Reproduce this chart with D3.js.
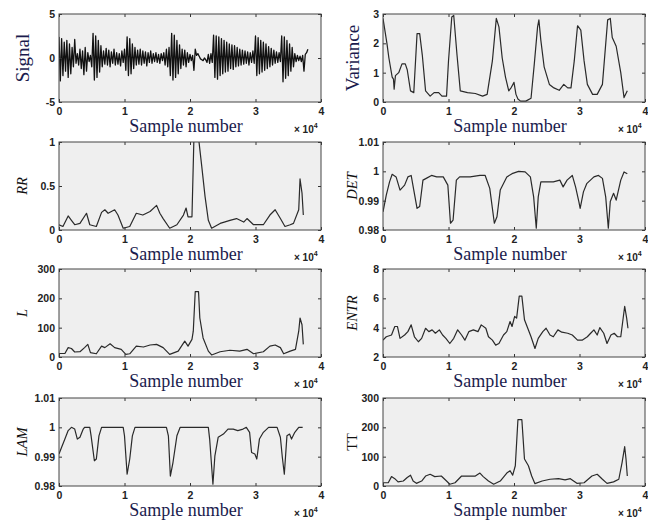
<!DOCTYPE html>
<html lang="en">
<head>
<meta charset="UTF-8">
<script src="https://cdn.jsdelivr.net/npm/d3@7"></script>
<title>Recurrence measures</title>
<style>
    body { margin: 0; background: #fff; }
    .tick text { font-family: "Liberation Sans", Arial, sans-serif; font-weight: bold; font-size: 10.5px; fill: #222; }
    .tick line { stroke: #333; }
    text.serif { font-family: "Liberation Serif", "Times New Roman", serif; }
</style>
</head>
<body>
<div id="chart"></div>
<script>
// x positions are in units of 1e4 samples
var xTicks = [0, 1, 2, 3, 4];

// raw signal, one value every 200 samples
var signalStep = 200;
var signalValues = [
    2.4,-2.6,2.2,-2.0,1.8,-1.5,2.0,-2.2,1.6,-1.8,1.2,-1.0,2.1,-0.6,0.5,
    -0.8,1.0,-1.2,0.8,-1.9,1.2,-1.5,0.6,-0.4,0.3,
    -1.0,2.8,-2.5,2.5,-2.2,2.0,-1.6,1.4,-1.0,0.8,
    -0.7,1.1,-0.8,0.9,-1.0,0.7,-0.6,1.0,-0.8,0.6,-0.7,0.5,-0.9,0.8,-0.5,
    1.0,-1.4,2.4,-2.0,2.2,-1.8,1.6,-1.2,1.2,-0.8,
    0.9,-0.7,1.0,-0.8,0.8,-0.6,0.7,-0.9,0.6,-0.5,0.8,-0.6,0.5,-0.4,0.6,-0.5,0.4,-0.6,0.5,-0.3,0.6,-0.8,1.0,-1.0,1.2,
    -2.0,2.8,-2.5,2.6,-2.2,2.0,-1.8,1.5,
    -1.2,1.0,-0.8,0.9,-1.0,0.6,-0.5,0.4,-0.3,0.3,
    -1.4,1.0,0.3,0.5,0.2,-0.1,-0.2,-0.3,0.0,-0.2,-0.5,0.4,-0.6,0.5,-0.5,
    2.6,-2.2,2.5,-2.4,2.4,-2.0,2.2,-1.8,2.0,-1.6,1.8,-1.5,1.6,-1.2,1.5,-1.3,1.4,-1.0,1.2,-0.9,1.0,-0.8,
    0.9,-0.7,0.8,-0.6,0.7,-0.8,0.6,-0.5,0.8,-0.6,
    2.5,-2.0,2.3,-1.8,2.0,-1.6,1.8,-1.4,1.6,-1.2,1.3,-1.0,1.1,-0.8,0.9,
    -0.6,0.7,-0.5,0.6,-0.4,
    2.5,-2.7,2.4,-2.3,2.0,-2.0,1.6,-1.5,1.2,-1.0,
    0.5,-0.4,0.3,-0.3,0.2,-0.4,0.3,-1.5,0.4,0.6,1.0
];

var variance = [[0,2.85],[0.06,2.0],[0.09,1.5],[0.14,0.85],[0.16,0.78],[0.17,0.44],[0.19,0.9],[0.24,1.0],[0.29,1.3],[0.34,1.3],[0.37,1.1],[0.42,0.38],[0.47,0.32],[0.52,2.33],[0.56,2.33],[0.6,1.6],[0.65,0.38],[0.72,0.2],[0.78,0.32],[0.85,0.32],[0.9,0.2],[0.97,0.2],[1.0,1.4],[1.05,2.9],[1.08,2.95],[1.13,1.6],[1.18,0.38],[1.29,0.32],[1.41,0.29],[1.52,0.2],[1.59,0.26],[1.67,1.4],[1.73,2.85],[1.77,2.56],[1.82,1.5],[1.87,0.85],[1.92,0.38],[1.96,0.5],[2.0,0.67],[2.03,0.26],[2.06,0.1],[2.1,0.03],[2.18,0.03],[2.26,0.13],[2.31,1.3],[2.36,2.56],[2.38,2.8],[2.41,2.1],[2.46,1.2],[2.54,0.6],[2.61,0.48],[2.69,0.4],[2.76,0.6],[2.82,0.48],[2.87,0.48],[2.92,1.4],[2.97,2.6],[3.02,2.45],[3.07,1.4],[3.12,0.6],[3.2,0.26],[3.27,0.26],[3.35,0.6],[3.43,2.8],[3.47,2.85],[3.5,2.2],[3.56,1.9],[3.63,1.0],[3.68,0.15],[3.73,0.38]];

var rr = [[0,0.06],[0.06,0.04],[0.14,0.16],[0.19,0.11],[0.24,0.06],[0.32,0.075],[0.42,0.19],[0.47,0.06],[0.57,0.04],[0.65,0.2],[0.7,0.23],[0.75,0.19],[0.85,0.23],[0.9,0.17],[0.98,0.02],[1.08,0.04],[1.18,0.19],[1.28,0.17],[1.39,0.21],[1.49,0.28],[1.54,0.19],[1.59,0.13],[1.69,0.02],[1.8,0.06],[1.9,0.17],[1.94,0.25],[1.97,0.15],[2.03,0.15],[2.06,1.05],[2.13,1.05],[2.18,0.72],[2.23,0.38],[2.28,0.11],[2.33,0.02],[2.46,0.075],[2.61,0.11],[2.71,0.13],[2.82,0.09],[2.87,0.13],[2.97,0.06],[3.12,0.06],[3.22,0.17],[3.3,0.23],[3.38,0.13],[3.45,0.04],[3.53,0.06],[3.58,0.075],[3.66,0.23],[3.68,0.58],[3.71,0.42],[3.73,0.17]];

var det = [[0,0.9862],[0.05,0.9919],[0.1,0.9964],[0.14,0.999],[0.2,0.9981],[0.26,0.9936],[0.33,0.9953],[0.38,0.9981],[0.43,0.9986],[0.47,0.9936],[0.52,0.9874],[0.56,0.988],[0.61,0.997],[0.66,0.9976],[0.74,0.9986],[0.82,0.9981],[0.92,0.9981],[0.99,0.9953],[1.03,0.9823],[1.07,0.9834],[1.12,0.997],[1.17,0.9981],[1.33,0.9981],[1.48,0.9986],[1.56,0.9986],[1.63,0.9942],[1.7,0.9823],[1.74,0.9845],[1.79,0.9936],[1.89,0.9981],[1.97,0.9992],[2.07,1.0],[2.17,0.9998],[2.25,0.9981],[2.3,0.9913],[2.34,0.9806],[2.37,0.9913],[2.41,0.9964],[2.5,0.9964],[2.6,0.9964],[2.7,0.997],[2.75,0.9947],[2.81,0.997],[2.89,0.9986],[2.94,0.9947],[2.99,0.9897],[3.01,0.9874],[3.06,0.993],[3.11,0.9958],[3.22,0.9981],[3.29,0.9986],[3.35,0.9976],[3.4,0.9913],[3.44,0.9806],[3.47,0.9897],[3.52,0.9925],[3.56,0.9902],[3.63,0.997],[3.68,0.9998],[3.73,0.9992]];

var lmean = [[0,12],[0.09,12],[0.14,32],[0.19,29],[0.24,17],[0.32,18],[0.39,32],[0.44,43],[0.48,15],[0.57,11],[0.65,37],[0.7,32],[0.78,45],[0.85,32],[0.95,26],[1.02,9],[1.08,11],[1.18,37],[1.29,34],[1.39,41],[1.49,43],[1.59,32],[1.69,9],[1.82,20],[1.92,54],[1.97,37],[2.03,60],[2.05,88],[2.08,223],[2.13,223],[2.15,133],[2.2,65],[2.28,20],[2.33,7],[2.46,18],[2.61,23],[2.76,20],[2.87,26],[2.97,11],[3.12,18],[3.22,37],[3.3,41],[3.38,32],[3.43,11],[3.53,20],[3.61,26],[3.66,88],[3.68,133],[3.71,110],[3.73,43]];

var entr = [[0,3.15],[0.05,3.38],[0.13,3.5],[0.18,4.08],[0.22,4.08],[0.26,3.27],[0.33,3.5],[0.38,3.73],[0.43,4.19],[0.48,3.38],[0.54,3.04],[0.59,3.27],[0.65,3.96],[0.7,3.73],[0.75,3.85],[0.8,3.62],[0.86,3.85],[0.91,3.5],[0.96,3.27],[1.02,2.92],[1.08,3.27],[1.14,3.85],[1.2,3.5],[1.25,3.15],[1.31,3.73],[1.38,3.85],[1.45,3.73],[1.5,4.19],[1.57,3.96],[1.61,3.38],[1.67,3.15],[1.72,2.81],[1.77,2.92],[1.84,3.5],[1.89,3.73],[1.94,4.42],[1.97,4.08],[2.01,4.77],[2.04,4.65],[2.08,6.15],[2.12,6.15],[2.16,4.54],[2.21,3.96],[2.26,3.38],[2.32,2.58],[2.37,3.27],[2.44,3.73],[2.49,3.96],[2.55,3.5],[2.6,3.38],[2.67,3.85],[2.73,3.69],[2.82,3.62],[2.89,3.5],[2.97,3.15],[3.04,3.15],[3.12,3.38],[3.17,3.62],[3.22,3.85],[3.27,3.5],[3.31,4.0],[3.37,3.62],[3.42,2.92],[3.48,3.5],[3.53,3.62],[3.58,3.38],[3.63,3.38],[3.66,4.42],[3.69,5.46],[3.72,4.65],[3.74,3.96]];

var lam = [[0,0.9909],[0.04,0.9932],[0.09,0.996],[0.14,0.9989],[0.19,1.0],[0.24,0.9994],[0.28,0.996],[0.32,0.9966],[0.37,0.9994],[0.39,1.0],[0.47,1.0],[0.49,0.9971],[0.54,0.9886],[0.57,0.9892],[0.61,0.9971],[0.65,1.0],[0.98,1.0],[1.0,0.9971],[1.04,0.984],[1.08,0.9892],[1.12,0.9971],[1.16,1.0],[1.64,1.0],[1.67,0.9971],[1.7,0.9834],[1.74,0.988],[1.8,0.9971],[1.85,1.0],[2.28,1.0],[2.3,0.996],[2.35,0.9806],[2.38,0.9903],[2.43,0.9966],[2.51,0.9977],[2.58,0.9994],[2.66,0.9994],[2.73,0.9989],[2.81,0.9994],[2.86,1.0],[2.91,0.9983],[2.94,0.9914],[2.99,0.9909],[3.02,0.9892],[3.06,0.996],[3.12,0.9983],[3.2,1.0],[3.33,1.0],[3.38,0.9966],[3.41,0.9897],[3.44,0.984],[3.48,0.9971],[3.52,0.9977],[3.55,0.996],[3.6,0.9983],[3.66,1.0],[3.72,1.0]];

var tt = [[0,11],[0.08,11],[0.13,32],[0.18,25],[0.23,14],[0.31,17],[0.37,29],[0.42,37],[0.46,17],[0.51,9],[0.59,17],[0.65,34],[0.72,40],[0.79,32],[0.89,34],[0.97,17],[1.02,6],[1.1,11],[1.2,34],[1.3,34],[1.41,34],[1.48,44],[1.53,32],[1.61,17],[1.69,6],[1.79,17],[1.89,44],[1.94,52],[1.98,37],[2.02,69],[2.06,226],[2.12,226],[2.16,92],[2.22,69],[2.27,34],[2.32,8],[2.43,17],[2.55,23],[2.68,25],[2.78,21],[2.86,25],[2.96,9],[3.07,11],[3.19,34],[3.27,40],[3.35,23],[3.42,9],[3.52,14],[3.6,23],[3.65,80],[3.69,134],[3.71,92],[3.73,34]];

var signal = signalValues.map(function (v, i) { return [i * signalStep / 1e4, v]; });

var panels = [
    {id: "sig",  label: "Signal",   italic: false, big: true,  data: signal,   domain: [-5, 5],       ticks: [-5, 0, 5],               col: 0, row: 0},
    {id: "var",  label: "Variance", italic: false, big: true,  data: variance, domain: [0, 3],        ticks: [0, 1, 2, 3],             col: 1, row: 0},
    {id: "rr",   label: "RR",       italic: true,  big: false, data: rr,       domain: [0, 1],        ticks: [0, 0.5, 1],              col: 0, row: 1},
    {id: "det",  label: "DET",      italic: true,  big: false, data: det,      domain: [0.98, 1.01],  ticks: [0.98, 0.99, 1, 1.01],    col: 1, row: 1},
    {id: "l",    label: "L",        italic: true,  big: false, data: lmean,    domain: [0, 300],      ticks: [0, 100, 200, 300],       col: 0, row: 2},
    {id: "entr", label: "ENTR",     italic: true,  big: false, data: entr,     domain: [2, 8],        ticks: [2, 4, 6, 8],             col: 1, row: 2},
    {id: "lam",  label: "LAM",      italic: true,  big: false, data: lam,      domain: [0.98, 1.01],  ticks: [0.98, 0.99, 1, 1.01],    col: 0, row: 3},
    {id: "tt",   label: "TT",       italic: false, big: false, data: tt,       domain: [0, 300],      ticks: [0, 100, 200, 300],       col: 1, row: 3}
];

var W = 648, H = 521;
var colX = [59, 383], colW = 262;
var rowY = [14, 142, 269, 398], rowH = 88;
var labX = [22, 352];
var navy = "#1b1b4d";
var serif = "'Liberation Serif', 'Times New Roman', Times, serif";

var svg = d3.select("#chart").append("svg")
    .attr("width", W).attr("height", H);

function fmt(d) { return String(+d.toFixed(2)); }

panels.forEach(function (p) {
    var x0 = colX[p.col], y0 = rowY[p.row];
    var x = d3.scaleLinear().domain([0, 4]).range([0, colW]);
    var y = d3.scaleLinear().domain(p.domain).range([rowH, 0]);

    var g = svg.append("g").attr("transform", "translate(" + x0 + "," + y0 + ")");

    g.append("rect").attr("width", colW).attr("height", rowH).attr("fill", "#efefef");

    g.append("clipPath").attr("id", "clip-" + p.id)
        .append("rect").attr("width", colW).attr("height", rowH);

    var line = d3.line().x(function (d) { return x(d[0]); }).y(function (d) { return y(d[1]); });
    g.append("path").datum(p.data)
        .attr("clip-path", "url(#clip-" + p.id + ")")
        .attr("fill", "none")
        .attr("stroke", p.id === "sig" ? "#111" : "#2a2a2a")
        .attr("stroke-width", p.id === "sig" ? 1.3 : 1.2)
        .attr("stroke-linejoin", "round")
        .attr("d", line);

    // axes, ticks pointing inward
    g.append("g").attr("transform", "translate(0," + rowH + ")")
        .call(d3.axisBottom(x).tickValues(xTicks).tickSize(-3).tickPadding(6).tickFormat(d3.format("d")))
        .call(function (a) { a.select(".domain").remove(); });
    g.append("g")
        .call(d3.axisTop(x).tickValues(xTicks).tickSize(-3).tickFormat(""))
        .call(function (a) { a.select(".domain").remove(); });
    g.append("g")
        .call(d3.axisLeft(y).tickValues(p.ticks).tickSize(-3).tickPadding(4).tickFormat(fmt))
        .call(function (a) { a.select(".domain").remove(); });
    g.append("g").attr("transform", "translate(" + colW + ",0)")
        .call(d3.axisRight(y).tickValues(p.ticks).tickSize(-3).tickFormat(""))
        .call(function (a) { a.select(".domain").remove(); });

    g.append("rect").attr("width", colW).attr("height", rowH)
        .attr("fill", "none").attr("stroke", "#444").attr("stroke-width", 1);

    // x label
    g.append("text")
        .attr("x", colW / 2 - 4).attr("y", rowH + 30)
        .attr("text-anchor", "middle")
        .style("font-family", serif)
        .style("font-size", "18px")
        .attr("fill", navy)
        .text("Sample number");

    var mult = g.append("text")
        .attr("x", colW - 27).attr("y", rowH + 31)
        .style("font-family", "'Liberation Sans', Arial, sans-serif")
        .style("font-weight", "bold")
        .style("font-size", "10px")
        .attr("fill", "#222");
    mult.append("tspan").text("\u00d7 10");
    mult.append("tspan").attr("dy", -5).style("font-size", "7px").text("4");

    // y label
    svg.append("text")
        .attr("transform", "translate(" + labX[p.col] + "," + (y0 + rowH / 2) + ") rotate(-90)")
        .attr("text-anchor", "middle")
        .attr("dominant-baseline", "central")
        .style("font-family", serif)
        .style("font-size", (p.big ? 19 : 14.5) + "px")
        .style("font-style", p.italic ? "italic" : "normal")
        .attr("fill", p.big ? navy : "#111")
        .text(p.label);
});
</script>
</body>
</html>
